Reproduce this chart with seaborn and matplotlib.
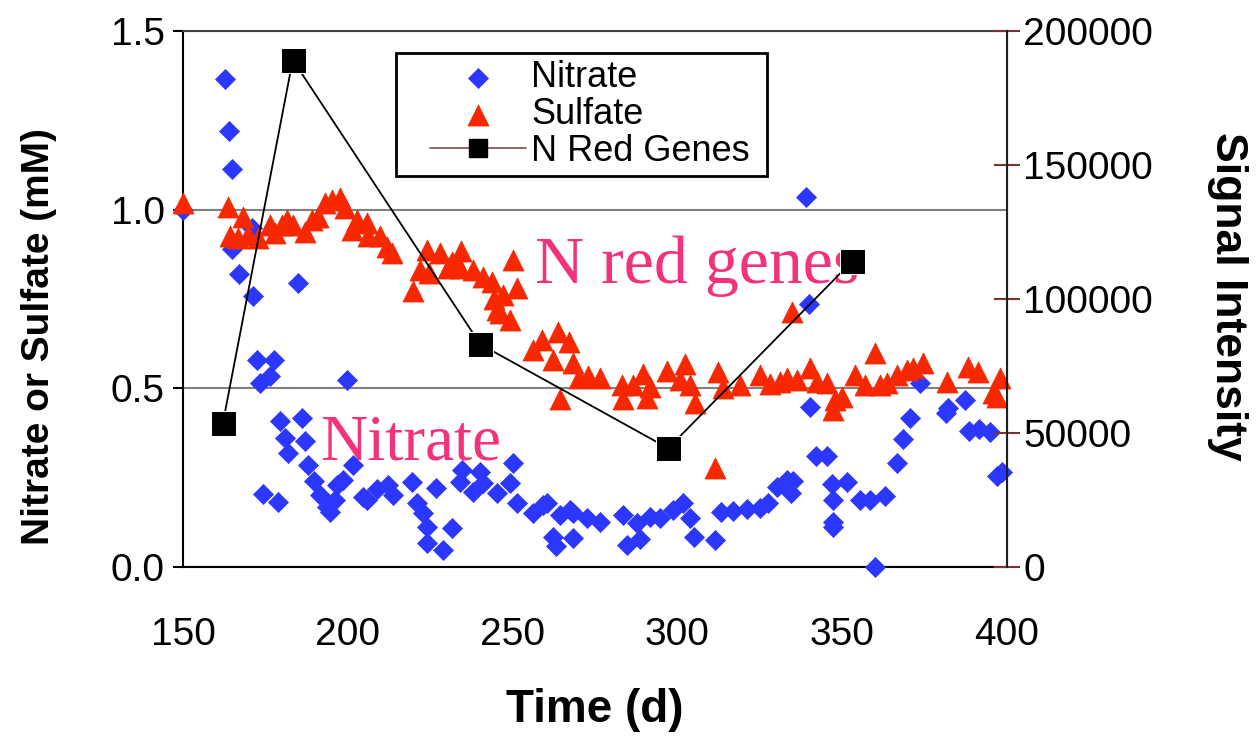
import matplotlib
matplotlib.use("Agg")
import matplotlib.pyplot as plt
import seaborn as sns
from matplotlib.lines import Line2D
from matplotlib.collections import PathCollection
from matplotlib.legend_handler import HandlerLine2D, HandlerPathCollection

# Nitrate (mM) vs time (d)
nitrate_time = [150.0, 162.8, 163.9, 165.0, 164.8, 167.0, 171.0, 171.3, 172.4, 173.4,
                174.4, 176.4, 177.6, 178.7, 179.4, 181.0, 182.0, 185.0, 186.0, 187.0,
                188.0, 189.6, 191.6, 193.6, 194.6, 196.1, 196.6, 198.6, 199.7, 201.5,
                204.7, 205.7, 208.8, 212.3, 213.8, 219.6, 220.9, 222.9, 223.9, 223.9,
                226.9, 229.0, 231.5, 234.0, 234.5, 238.1, 240.1, 241.1, 245.2, 249.2,
                250.2, 251.2, 256.3, 259.3, 260.3, 262.3, 263.3, 264.4, 267.4, 268.4,
                268.4, 272.5, 276.5, 283.6, 284.6, 287.6, 288.7, 291.7, 294.7, 298.8,
                301.8, 303.8, 305.0, 311.4, 313.2, 317.0, 321.0, 325.1, 327.5, 330.1,
                333.1, 335.0, 334.5, 339.0, 340.0, 340.1, 341.9, 345.3, 346.8, 347.3,
                347.3, 347.3, 351.5, 355.4, 358.4, 363.0, 360.0, 366.5, 368.5, 370.6,
                373.6, 381.4, 382.0, 387.3, 388.5, 391.5, 394.8, 396.8, 398.4]
nitrate_conc = [1.00, 1.365, 1.220, 1.113, 0.89, 0.82, 0.95, 0.757, 0.579, 0.514,
                0.204, 0.535, 0.579, 0.183, 0.409, 0.360, 0.318, 0.794, 0.418, 0.353,
                0.285, 0.241, 0.201, 0.169, 0.155, 0.188, 0.230, 0.243, 0.523, 0.285,
                0.197, 0.188, 0.218, 0.230, 0.202, 0.237, 0.178, 0.150, 0.113, 0.066,
                0.220, 0.048, 0.108, 0.239, 0.271, 0.211, 0.267, 0.234, 0.206, 0.234,
                0.290, 0.178, 0.150, 0.174, 0.178, 0.085, 0.060, 0.145, 0.160, 0.080,
                0.150, 0.138, 0.127, 0.145, 0.062, 0.122, 0.078, 0.141, 0.138, 0.160,
                0.180, 0.138, 0.085, 0.076, 0.155, 0.158, 0.162, 0.165, 0.180, 0.225,
                0.243, 0.241, 0.206, 1.036, 0.736, 0.447, 0.311, 0.311, 0.232, 0.188,
                0.127, 0.113, 0.237, 0.188, 0.188, 0.200, 0.0, 0.290, 0.357, 0.416,
                0.514, 0.430, 0.445, 0.467, 0.380, 0.385, 0.377, 0.255, 0.267]

# Sulfate (mM) vs time (d)
sulfate_time = [150.1, 163.8, 164.3, 166.8, 168.3, 169.8, 172.9, 176.4, 177.9, 179.9,
                181.5, 183.5, 187.0, 189.0, 191.1, 193.1, 195.1, 197.6, 199.2, 201.2,
                202.7, 205.7, 206.2, 209.8, 211.8, 213.3, 219.9, 221.9, 223.9, 224.5,
                228.0, 230.5, 231.5, 234.3, 234.0, 238.1, 241.1, 243.6, 244.2, 245.2,
                246.2, 247.2, 249.2, 250.2, 251.2, 256.3, 258.8, 262.3, 263.9, 264.4,
                267.2, 268.2, 270.2, 273.0, 276.5, 283.1, 283.6, 286.5, 289.6, 290.7,
                291.7, 296.8, 300.8, 302.2, 303.8, 305.3, 311.4, 312.4, 313.9, 319.0,
                325.1, 328.1, 331.1, 333.1, 334.7, 336.2, 340.2, 342.3, 345.3, 347.3,
                347.8, 349.8, 353.9, 356.9, 360.0, 361.5, 363.5, 366.5, 369.6, 371.6,
                374.6, 381.7, 388.3, 391.3, 395.8, 396.8, 397.9]
sulfate_conc = [1.018, 1.008, 0.925, 0.920, 0.980, 0.929, 0.920, 0.957, 0.935, 0.957,
                0.971, 0.957, 0.938, 0.971, 0.980, 1.018, 1.027, 1.032, 1.004, 0.943,
                0.971, 0.962, 0.925, 0.925, 0.895, 0.880, 0.772, 0.831, 0.887, 0.822,
                0.880, 0.836, 0.854, 0.885, 0.836, 0.831, 0.812, 0.798, 0.750, 0.719,
                0.710, 0.761, 0.691, 0.859, 0.782, 0.607, 0.635, 0.579, 0.659, 0.470,
                0.631, 0.570, 0.530, 0.535, 0.530, 0.509, 0.470, 0.509, 0.540, 0.474,
                0.505, 0.549, 0.523, 0.567, 0.509, 0.458, 0.276, 0.547, 0.500, 0.510,
                0.537, 0.511, 0.519, 0.528, 0.715, 0.523, 0.556, 0.519, 0.514, 0.439,
                0.467, 0.477, 0.537, 0.509, 0.598, 0.509, 0.514, 0.537, 0.551, 0.556,
                0.570, 0.519, 0.561, 0.547, 0.486, 0.477, 0.528]

# N reductase genes signal intensity
gene_time = [162.1, 183.3, 240.2, 297.2, 353.1]
gene_signal = [53700, 189200, 83100, 44300, 114200]

x_ticks = [150, 200, 250, 300, 350, 400]
left_ticks = [0.0, 0.5, 1.0, 1.5]
right_ticks = [0, 50000, 100000, 150000, 200000]

blue = "#2B37FF"
red = "#F72800"
pink = "#F2327A"

sns.set_style("white")
plt.rcParams["font.family"] = ["Liberation Sans", "DejaVu Sans"]
plt.rcParams["text.color"] = "black"
plt.rcParams["axes.labelcolor"] = "black"
plt.rcParams["xtick.color"] = "black"
plt.rcParams["ytick.color"] = "black"

fig = plt.figure(figsize=(12.56, 7.36), dpi=100)
ax = fig.add_axes([0.1457, 0.2296, 0.6561, 0.7283])
ax2 = ax.twinx()

# gridlines
ax.yaxis.grid(True, color="#808080", linewidth=1.5)
ax.set_axisbelow(True)

sns.scatterplot(x=nitrate_time, y=nitrate_conc, marker="D", s=104, color=blue,
                edgecolor=blue, linewidth=0.5, ax=ax, label="Nitrate", zorder=3,
                clip_on=False)
sns.scatterplot(x=sulfate_time, y=sulfate_conc, marker="^", s=230, color=red,
                edgecolor=red, linewidth=0.5, ax=ax, label="Sulfate", zorder=4,
                clip_on=False)
sns.lineplot(x=gene_time, y=gene_signal, marker="s", markersize=18, color="black",
             linewidth=1.3, ax=ax2, label="N Red Genes")

ax.set_xlim(150, 400)
ax.set_ylim(0, 1.5)
ax2.set_ylim(0, 200000)
ax.set_xticks(x_ticks)
ax.set_yticks(left_ticks)
ax.set_yticklabels([f"{v:.1f}" for v in left_ticks])
ax2.set_yticks(right_ticks)
ax2.set_yticklabels([str(v) for v in right_ticks])

ax.tick_params(axis="x", direction="out", length=7, width=1.5, labelsize=28, pad=29,
               color="black", labelcolor="black")
ax.tick_params(axis="y", direction="out", length=7, width=1.5, labelsize=28, pad=6,
               color="black", labelcolor="black")
ax2.tick_params(axis="y", direction="inout", length=19, width=1.5, labelsize=28, pad=2,
                color="#803030", labelcolor="black")

for side in ["left", "bottom"]:
    ax.spines[side].set_color("black")
    ax.spines[side].set_linewidth(1.5)
ax.spines["top"].set_color("#404040")
ax.spines["top"].set_linewidth(1.5)
ax2.spines["right"].set_color("#202020")
ax2.spines["right"].set_linewidth(1.5)
for side in ["left", "top", "bottom"]:
    ax2.spines[side].set_visible(False)

ax.set_xlabel("Time (d)", fontsize=33, fontweight="bold")
ax.xaxis.set_label_coords(0.5, -0.226)
ax.set_ylabel("Nitrate or Sulfate (mM)", fontsize=28, fontweight="bold")
ax.yaxis.set_label_coords(-0.153, 0.429)
ax2.set_ylabel("Signal Intensity", fontsize=32, fontweight="bold", rotation=270)
ax2.yaxis.set_label_coords(1.2925, 0.504)

ax.text(256.8, 0.795, "N red genes", family=["Liberation Serif"], fontsize=49, color=pink)
ax.text(191.6, 0.30, "Nitrate", family=["Liberation Serif"], fontsize=47, color=pink)

# legend
h1, l1 = ax.get_legend_handles_labels()
gene_handle = Line2D([], [], color="#7a5050", linewidth=1.2, marker="s",
                     markersize=13, markerfacecolor="black", markeredgecolor="black")
ax.legend_ = None
leg = ax2.legend(h1 + [gene_handle], l1 + ["N Red Genes "], loc="upper left",
                 bbox_to_anchor=(0.2585, 0.959), borderaxespad=0, fontsize=26,
                 frameon=True, fancybox=False, edgecolor="black", framealpha=1,
                 labelspacing=0.05, handlelength=3.4, handletextpad=0.15,
                 borderpad=0.2,
                 handler_map={Line2D: HandlerLine2D(xpad=0.75),
                              PathCollection: HandlerPathCollection(xpad=0.75)})
leg.get_frame().set_linewidth(2)
for t in leg.get_texts():
    t.set_color("black")

fig.savefig("out.png", dpi=100)
